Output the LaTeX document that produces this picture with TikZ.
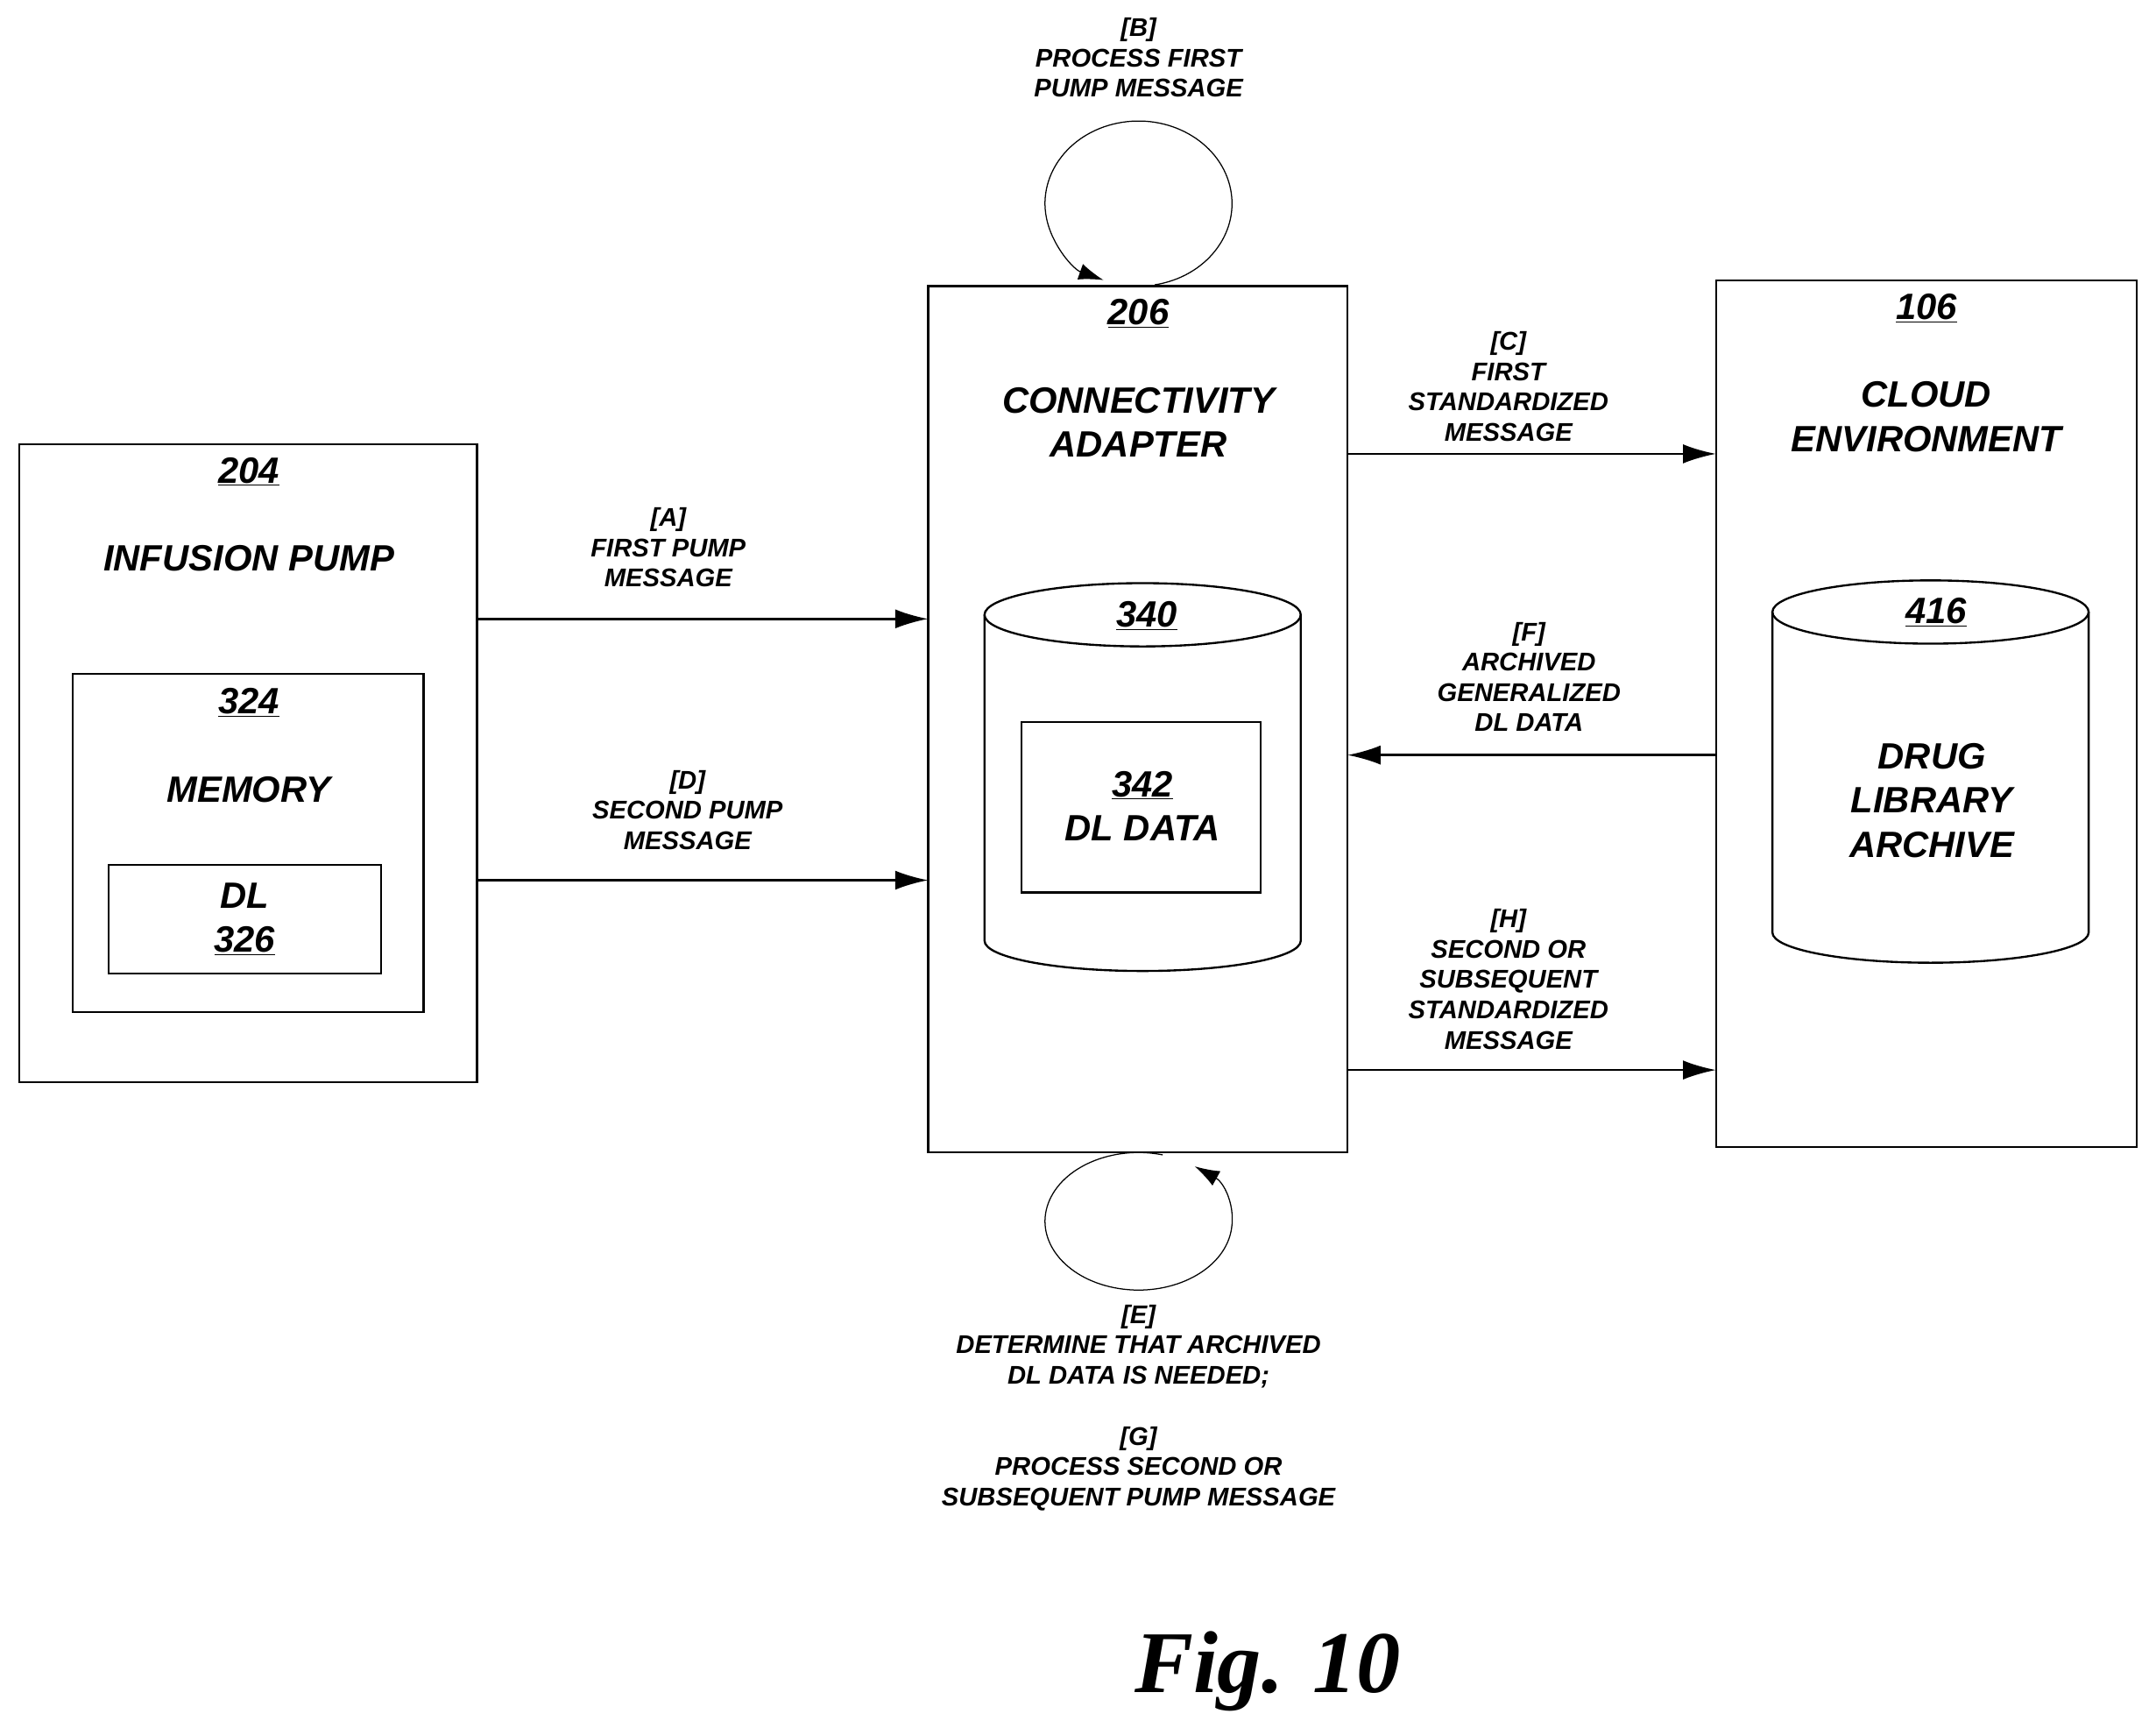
\documentclass[tikz,border=0pt]{standalone}
\usepackage{fontspec}
\setmainfont{Liberation Sans}
\newfontfamily\figfont{Liberation Serif}
\usetikzlibrary{arrows.meta}
\begin{document}
\begin{tikzpicture}[x=1pt,y=1pt,
  box/.style={draw,line width=1.5pt},
  lab/.style={font=\fontsize{18.6}{22}\selectfont\bfseries\itshape,align=center},
  ttl/.style={font=\fontsize{26.6}{32}\selectfont\bfseries\itshape,align=center},
  arr/.style={line width=1.6pt,-{Latex[length=24pt,width=14pt]}},
  lp/.style={line width=0.8pt,-{Latex[length=18pt,width=12pt]}}]
\useasboundingbox (0,0) rectangle (1568,-1261.5);
% 204
\draw[box] (14,-323) rectangle (347,-787);
\node[ttl] (n204) at (181,-343) {\underline{204}};
\node[ttl] (ip) at (181,-406) {INFUSION PUMP};
\draw[box] (53,-490) rectangle (308,-736);
\node[ttl] (n324) at (181,-511) {\underline{324}};
\node[ttl] (mem) at (181,-574) {MEMORY};
\draw[box] (79,-629) rectangle (277,-708);
\node[ttl] (dl) at (178,-651) {DL};
\node[ttl] (n326) at (178,-684) {\underline{326}};
% 206
\draw[box] (675,-208) rectangle (980,-838);
\node[ttl] (n206) at (828,-228) {\underline{206}};
\node[ttl] (ca) at (828,-307) {CONNECTIVITY\\ADAPTER};
\draw[box] (716,-447) -- (716,-684) arc[start angle=180,end angle=360,x radius=115,y radius=22] -- (946,-447);
\draw[box] (831,-447) ellipse[x radius=115,y radius=23];
\node[ttl] (n340) at (834,-448) {\underline{340}};
\draw[box] (743,-525) rectangle (917,-649);
\node[ttl] (n342) at (831,-571) {\underline{342}};
\node[ttl] (dld) at (831,-602) {DL DATA};
% 106
\draw[box] (1248,-204) rectangle (1554,-834);
\node[ttl] (n106) at (1401,-224) {\underline{106}};
\node[ttl] (ce) at (1401,-303) {CLOUD\\ENVIRONMENT};
\draw[box] (1289,-445) -- (1289,-678) arc[start angle=180,end angle=360,x radius=115,y radius=22] -- (1519,-445);
\draw[box] (1404,-445) ellipse[x radius=115,y radius=23];
\node[ttl] (n416) at (1408,-445) {\underline{416}};
\node[ttl] (dla) at (1405,-582) {DRUG\\LIBRARY\\ARCHIVE};
% arrows
\coordinate (a1) at (347,-450); \coordinate (a2) at (675,-450);
\draw[arr] (a1) -- (a2);
\node[lab] (la) at (486,-398) {[A]\\FIRST PUMP\\MESSAGE};
\coordinate (d1) at (347,-640); \coordinate (d2) at (675,-640);
\draw[arr] (d1) -- (d2);
\node[lab] (ld) at (500,-589) {[D]\\SECOND PUMP\\MESSAGE};
\coordinate (c1) at (980,-330); \coordinate (c2) at (1248,-330);
\draw[arr] (c1) -- (c2);
\node[lab] (lc) at (1097,-281) {[C]\\FIRST\\STANDARDIZED\\MESSAGE};
\coordinate (f1) at (1248,-549); \coordinate (f2) at (980,-549);
\draw[arr] (f1) -- (f2);
\node[lab] (lf) at (1112,-492) {[F]\\ARCHIVED\\GENERALIZED\\DL DATA};
\coordinate (h1) at (980,-778); \coordinate (h2) at (1248,-778);
\draw[arr] (h1) -- (h2);
\node[lab] (lh) at (1097,-712) {[H]\\SECOND OR\\SUBSEQUENT\\STANDARDIZED\\MESSAGE};
% loops
\coordinate (t0) at ({828+68*cos(-80)},{-148+60*sin(-80)});
\draw[lp] (t0) arc[start angle=-80,end angle=248,x radius=68,y radius=60];
\coordinate (b0) at ({828+68*cos(75)},{-888+50*sin(75)});
\draw[lp] (b0) arc[start angle=75,end angle=413,x radius=68,y radius=50];
\node[lab] (lb) at (828,-42) {[B]\\PROCESS FIRST\\PUMP MESSAGE};
\node[lab] (le) at (828,-979) {[E]\\DETERMINE THAT ARCHIVED\\DL DATA IS NEEDED;};
\node[lab] (lg) at (828,-1068) {[G]\\PROCESS SECOND OR\\SUBSEQUENT PUMP MESSAGE};
\node[font=\figfont\fontsize{64}{70}\selectfont\bfseries\itshape] (fig) at (922,-1215) {Fig. 10};
\end{tikzpicture}
\end{document}
